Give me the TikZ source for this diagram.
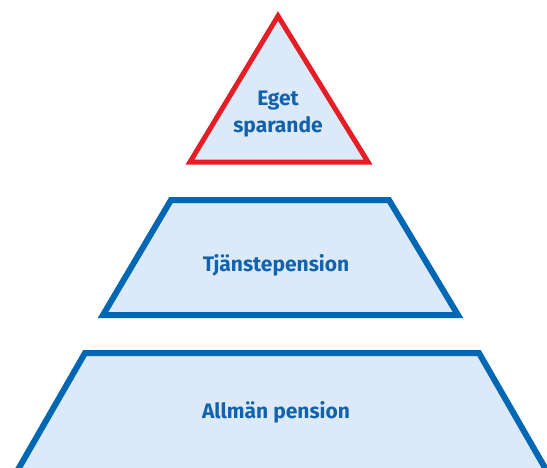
\documentclass[tikz,border=0pt]{standalone}
\usepackage{fontspec}
\setmainfont{Fira Sans}
\definecolor{pyrblue}{RGB}{0,103,180}
\definecolor{pyrred}{RGB}{228,30,38}
\definecolor{pyrfill}{RGB}{219,233,248}
\definecolor{pyrtext}{RGB}{18,98,172}
\tikzset{every picture/.append style={x=1pt, y=-1pt}}
\tikzset{
  level/.style={draw=pyrblue, fill=pyrfill, line width=6pt, line join=miter},
  top/.style={draw=pyrred, fill=pyrfill, line width=5pt, line join=miter},
  lbl/.style={text=pyrtext, font=\bfseries\fontsize{21}{27}\selectfont, align=center}
}

\begin{document}
\begin{tikzpicture}
  \useasboundingbox (0,0) rectangle (547,467);
  \clip (0,0) rectangle (547,467);
  % base
  \draw[level] (85,353) -- (479,353) -- (552,480) -- (12,480) -- cycle;
  \node[lbl] (allman) at (276,412) {Allmän pension};
  % middle
  \draw[level] (171,200) -- (389,200) -- (458,315) -- (103,315) -- cycle;
  \node[lbl] (tjanst) at (276,265) {Tjänstepension};
  % top
  \draw[top] (190,162) -- (278,16) -- (368,162) -- cycle;
  \node[lbl] (eget) at (278,114) {Eget\\sparande};
\end{tikzpicture}
\end{document}
